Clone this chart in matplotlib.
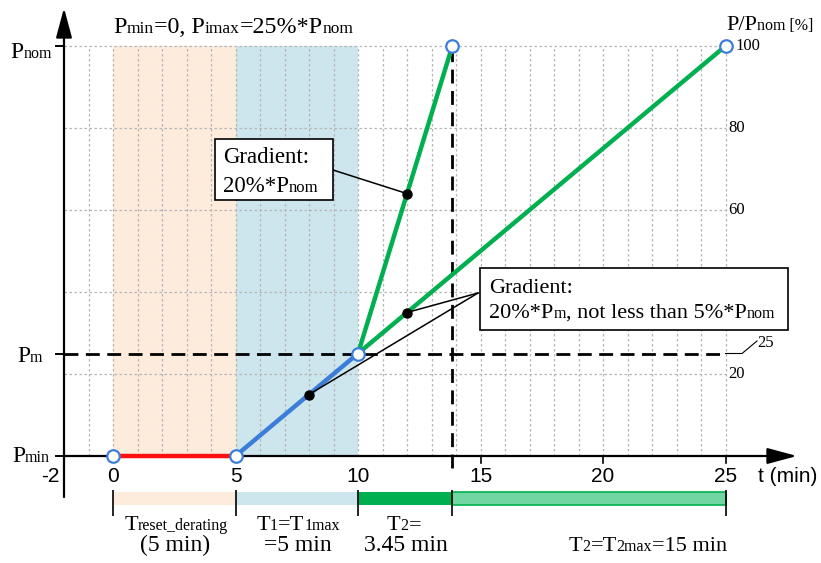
import matplotlib
matplotlib.use('Agg')
import matplotlib.pyplot as plt
from matplotlib import transforms
from matplotlib.patches import Rectangle

# data (t in minutes, P in % of Pnom)
t_reset = [0, 5]
p_reset = [0, 0]
t_ramp1 = [5, 10]
p_ramp1 = [0, 25]
t_fast = [10, 13.85]
p_fast = [25, 100]
t_slow = [10, 25]
p_slow = [25, 100]
p_m = 25
open_t = [0, 5, 10, 13.85, 25]
open_p = [0, 0, 25, 100, 100]
dot_t = [8, 12, 12]
dot_p = [15, 64, 35]
grid_p = [20, 40, 60, 80, 100]
grid_t = list(range(-1, 26))
x_ticks = [0, 5, 10, 15, 20, 25]
right_ticks = [100, 80, 60, 20]
phase_edges = [0, 5, 10, 13.85, 25]
phase_colors = ['#FDEBDC', '#CDE6EE', '#00B050', '#72D6A3']

SERIF = ['Liberation Serif', 'DejaVu Serif']
SANS = ['Liberation Sans', 'DejaVu Sans']
PEACH = '#FDEBDC'
LBLUE = '#CDE6EE'
GREEN = '#00B050'
BLUE = '#3C7DD9'


def xd(px):
    return (px - 113) / 24.5


def yd(px):
    return (456 - px) / 4.1


fig = plt.figure(figsize=(8.21, 5.63), dpi=100)
ax = fig.add_axes([0, 0, 1, 1])
ax.set_xlim(xd(0), xd(821))
ax.set_ylim(yd(563), yd(0))
ax.axis('off')
rend = fig.canvas.get_renderer()


def rich(x, y, parts, size=16, small=11.5, ha='left', fam=SERIF):
    made = []
    for s, sm in parts:
        made.append(ax.text(x, y, s, size=small if sm else size, family=fam,
                            va='baseline', ha='left', zorder=10))
    widths = [t.get_window_extent(rend).width for t in made]
    dx = {'left': 0, 'center': -sum(widths) / 2, 'right': -sum(widths)}[ha]
    for t, w in zip(made, widths):
        t.set_transform(transforms.offset_copy(ax.transData, fig=fig, x=dx, y=0, units='dots'))
        dx += w


# shaded phases
ax.fill_between(t_reset, 0, 100, color=PEACH, lw=0, zorder=0)
ax.fill_between(t_ramp1, 0, 100, color=LBLUE, lw=0, zorder=0)

# grid
ax.vlines(grid_t, 0, 100, colors='#B5B5B5', lw=0.9, linestyles=(0, (2, 2)), zorder=1)
ax.hlines(grid_p, -2, 25, colors='#B5B5B5', lw=0.9, linestyles=(0, (2, 2)), zorder=1)

# dashed helper lines
ax.plot([-2, 25], [p_m, p_m], color='k', lw=2, ls=(0, (5, 2.7)), zorder=3)
ax.plot([t_fast[1], t_fast[1]], [yd(468), 100], color='k', lw=2, ls=(0, (5, 2.7)), zorder=3)
ax.plot([25, xd(742), xd(757)], [p_m, p_m, yd(341)], color='k', lw=0.8, zorder=3)

# axes with arrows
ax.annotate('', xy=(-2, yd(8)), xytext=(-2, yd(497)),
            arrowprops=dict(arrowstyle='-|>,head_length=1.3,head_width=0.35', lw=1.6,
                            color='k', mutation_scale=14, shrinkA=0, shrinkB=0), zorder=4)
ax.annotate('', xy=(xd(797), 0), xytext=(-2, 0),
            arrowprops=dict(arrowstyle='-|>,head_length=1.3,head_width=0.35', lw=1.6,
                            color='k', mutation_scale=14, shrinkA=0, shrinkB=0), zorder=4)
for p in [0, p_m, 100]:
    ax.plot([xd(56), -2], [p, p], color='k', lw=1.4, zorder=4)
for t in x_ticks[3:]:
    ax.plot([t, t], [0, yd(463)], color='k', lw=1.2, zorder=4)

# curves
ax.plot(t_reset, p_reset, color='#FF1010', lw=3.2, zorder=5)
ax.plot(t_ramp1, p_ramp1, color=BLUE, lw=3.2, zorder=5)
ax.plot(t_fast, p_fast, color=GREEN, lw=3.2, zorder=5)
ax.plot(t_slow, p_slow, color=GREEN, lw=3.2, zorder=5)

# leader lines of callouts
ax.plot([xd(333), dot_t[1]], [yd(170), dot_p[1]], color='k', lw=1.1, zorder=6)
ax.plot([xd(478), dot_t[2]], [yd(293), dot_p[2]], color='k', lw=1.1, zorder=6)
ax.plot([xd(478), dot_t[0]], [yd(293), dot_p[0]], color='k', lw=1.1, zorder=6)

ax.plot(open_t, open_p, 'o', ms=9, mfc='white', mec=BLUE, mew=1.6, zorder=7)
ax.plot(dot_t, dot_p, 'o', ms=6.5, color='k', zorder=7)

# callout boxes
ax.add_patch(Rectangle((xd(215), yd(200)), xd(333) - xd(215), yd(139) - yd(200),
                       fc='white', ec='k', lw=1.2, zorder=8))
rich(xd(223), yd(163), [('Gradient:', 0)], size=16.5)
rich(xd(223), yd(192), [('20%*P', 0), ('nom', 1)], size=16.5, small=12)
ax.add_patch(Rectangle((xd(480), yd(330)), xd(788) - xd(480), yd(268) - yd(330),
                       fc='white', ec='k', lw=1.2, zorder=8))
rich(xd(489), yd(293), [('Gradient:', 0)])
rich(xd(489), yd(318), [('20%*P', 0), ('m', 1), (', not less than 5%*P', 0), ('nom', 1)])

# phase bars under the time axis
for i in range(len(phase_edges) - 1):
    ax.fill_between(phase_edges[i:i + 2], yd(505), yd(492), color=phase_colors[i],
                    lw=0, zorder=2)
ax.add_patch(Rectangle((phase_edges[3], yd(505)), phase_edges[4] - phase_edges[3],
                       yd(492) - yd(505), fc='none', ec=GREEN, lw=1.2, zorder=3))
ax.vlines(phase_edges, yd(516), yd(490), colors='k', lw=1.2, zorder=4)

# texts
rich(0, yd(33), [('P', 0), ('min', 1), ('=0, P', 0), ('imax', 1), ('=25%*P', 0), ('nom', 1)],
     size=17.3, small=12.5)
rich(xd(726), yd(30), [('P/P', 0), ('nom [%]', 1)])
rich(xd(10), yd(58), [('P', 0), ('nom', 1)], size=17)
rich(xd(17), yd(362), [('P', 0), ('m', 1)], size=17)
rich(xd(12), yd(462), [('P', 0), ('min', 1)], size=17)
ax.text(xd(50), yd(477), '-2', family=SANS, size=15, ha='center', va='center')
for t in x_ticks:
    ax.text(t, yd(477), str(t), family=SANS, size=15, ha='center', va='center')
ax.text(xd(758), yd(477), 't (min)', family=SANS, size=15, ha='left', va='center')
right_x = [735, 728, 728, 728]
for v, px in zip(right_ticks, right_x):
    ax.text(xd(px), v, str(v), family=SERIF, size=12, ha='left', va='center')
ax.text(xd(757), yd(343), '25', family=SERIF, size=12, ha='left', va='center')

rich(xd(176), yd(530), [('T', 0), ('reset_derating', 1)], ha='center')
rich(xd(175), yd(551), [('(5 min)', 0)], ha='center', size=17)
rich(xd(298), yd(530), [('T', 0), ('1', 1), ('=T', 0), ('1max', 1)], ha='center')
rich(xd(298), yd(551), [('=5 min', 0)], ha='center', size=17)
rich(xd(404), yd(530), [('T', 0), ('2', 1), ('=', 0)], ha='center')
rich(xd(406), yd(551), [('3.45 min', 0)], ha='center', size=17)
rich(xd(648), yd(551), [('T', 0), ('2', 1), ('=T', 0), ('2max', 1), ('=15 min', 0)],
     ha='center')

fig.savefig('out.png', dpi=100)
